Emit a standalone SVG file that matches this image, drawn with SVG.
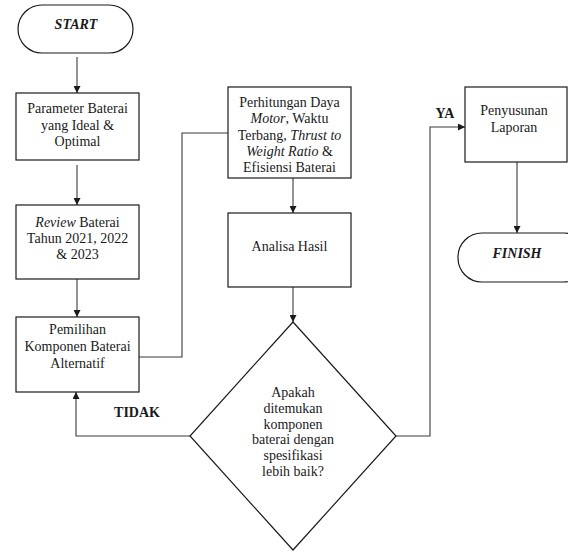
<svg xmlns="http://www.w3.org/2000/svg" width="568" height="552" viewBox="0 0 568 552">
<defs>
<style>
.box{fill:#fff;stroke:#1a1a1a;stroke-width:1.2}
.t{font-family:"Liberation Serif","Times New Roman",serif;font-size:14px;fill:#1a1a1a;text-anchor:middle}
.bi{font-weight:bold;font-style:italic}
.b{font-weight:bold}
.c{fill:none;stroke:#3a3a3a;stroke-width:1.1}
</style>
<marker id="ah" viewBox="0 0 10 10" refX="10" refY="5" markerWidth="7" markerHeight="7" markerUnits="userSpaceOnUse" orient="auto">
<path d="M0,0 L10,5 L0,10 z" fill="#1a1a1a"/>
</marker>
</defs>
<rect width="568" height="552" fill="#fff"/>
<g id="connectors">
<line class="c" x1="77" y1="57" x2="77" y2="93" marker-end="url(#ah)"/>
<line class="c" x1="77" y1="165" x2="77" y2="205" marker-end="url(#ah)"/>
<line class="c" x1="77" y1="279" x2="77" y2="317" marker-end="url(#ah)"/>
<polyline class="c" points="139,357 182,357 182,133 228,133"/>
<line class="c" x1="293" y1="178" x2="293" y2="213" marker-end="url(#ah)"/>
<line class="c" x1="293" y1="287" x2="293" y2="322" marker-end="url(#ah)"/>
<polyline class="c" points="190,436 76,436 76,392" marker-end="url(#ah)"/>
<polyline class="c" points="396,436 430,436 430,127 465,127" marker-end="url(#ah)"/>
<line class="c" x1="517" y1="162" x2="517" y2="233" marker-end="url(#ah)"/>
<text class="t b" x="137" y="417">TIDAK</text>
<text class="t b" x="445" y="118">YA</text>
</g>
<g id="start">
<rect class="box" x="18" y="5" width="115" height="48" rx="24" ry="24"/>
<text class="t bi" x="76" y="29">START</text>
</g>
<g id="param">
<rect class="box" x="16" y="93" width="123" height="67"/>
<text class="t" x="77.5" y="113">Parameter Baterai</text>
<text class="t" x="77.5" y="129.5">yang Ideal &amp;</text>
<text class="t" x="77.5" y="146">Optimal</text>
</g>
<g id="review">
<rect class="box" x="16" y="205" width="123" height="74"/>
<text class="t" x="77.5" y="227"><tspan font-style="italic">Review</tspan> Baterai</text>
<text class="t" x="77.5" y="243">Tahun 2021, 2022</text>
<text class="t" x="77.5" y="259">&amp; 2023</text>
</g>
<g id="pemilihan">
<rect class="box" x="16" y="317" width="123" height="75"/>
<text class="t" x="77.5" y="334">Pemilihan</text>
<text class="t" x="77.5" y="351">Komponen Baterai</text>
<text class="t" x="77.5" y="368">Alternatif</text>
</g>
<g id="perhitungan">
<rect class="box" x="228" y="87" width="123" height="91"/>
<text class="t" x="289.5" y="106.5">Perhitungan Daya</text>
<text class="t" x="289.5" y="123"><tspan font-style="italic">Motor</tspan>, Waktu</text>
<text class="t" x="289.5" y="139.5">Terbang, <tspan font-style="italic">Thrust to</tspan></text>
<text class="t" x="289.5" y="156"><tspan font-style="italic">Weight Ratio</tspan> &amp;</text>
<text class="t" x="289.5" y="172">Efisiensi Baterai</text>
</g>
<g id="analisa">
<rect class="box" x="228" y="213" width="123" height="74"/>
<text class="t" x="289.5" y="251">Analisa Hasil</text>
</g>
<g id="decision">
<polygon class="box" points="293,322 396,436 293,550 190,436"/>
<text class="t" x="293" y="397">Apakah</text>
<text class="t" x="293" y="413">ditemukan</text>
<text class="t" x="293" y="428.5">komponen</text>
<text class="t" x="293" y="444">baterai dengan</text>
<text class="t" x="293" y="460">spesifikasi</text>
<text class="t" x="293" y="476">lebih baik?</text>
</g>
<g id="penyusunan">
<rect class="box" x="465" y="87" width="102" height="75"/>
<text class="t" x="514" y="115">Penyusunan</text>
<text class="t" x="514" y="132">Laporan</text>
</g>
<g id="finish">
<rect class="box" x="458" y="233" width="130" height="49" rx="24" ry="24"/>
<text class="t bi" x="517" y="258">FINISH</text>
</g>
</svg>
